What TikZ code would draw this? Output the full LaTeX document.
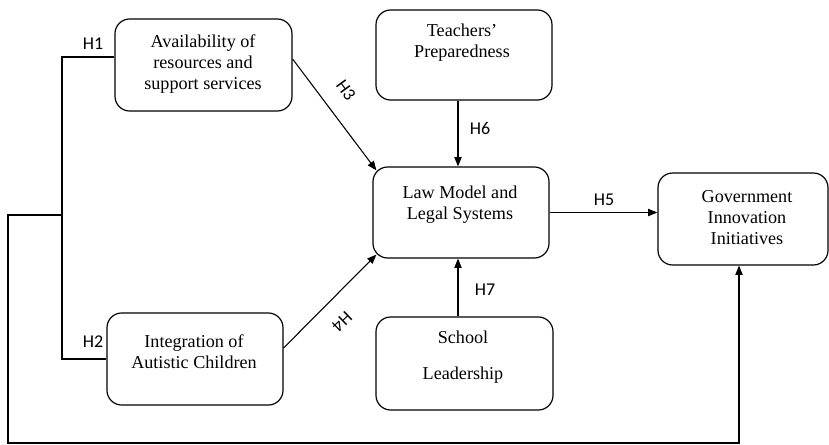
\documentclass[tikz,border=0pt]{standalone}
\usepackage{fontspec}
\setmainfont{Liberation Serif}
\newfontfamily\hypfont{Carlito}
\usetikzlibrary{arrows.meta,positioning,calc}

\begin{document}
\begin{tikzpicture}[x=0.75pt, y=-0.75pt,
    box/.style={draw, rounded corners=11pt, line width=0.9pt, inner sep=0pt},
    txt/.style={align=center, inner sep=0pt, font=\fontsize{13.6}{15.75}\selectfont},
    hyp/.style={inner sep=0pt, font=\hypfont\fontsize{13.5}{15}\selectfont},
    link/.style={line width=0.8pt},
    arr/.style={link, -{Triangle[length=7pt, width=5.5pt]}}]
    \useasboundingbox (0,0) rectangle (829,445);

    % boxes
    \node[box, minimum width=132.75pt, minimum height=69pt] (avail) at (203.5,65) {};
    \node[box, minimum width=132pt, minimum height=67.5pt] (teach) at (464,55) {};
    \node[box, minimum width=132pt, minimum height=68.25pt] (law) at (461,212.5) {};
    \node[box, minimum width=127.5pt, minimum height=69pt] (gov) at (743,219) {};
    \node[box, minimum width=132pt, minimum height=69pt] (integ) at (195,359) {};
    \node[box, minimum width=132.75pt, minimum height=69.75pt] (school) at (464.5,363.5) {};

    % texts
    \node[txt] (availtxt) at (203,64) {Availability of\\resources and\\support services};
    \node[txt] (teachtxt) at (462,43) {Teachers'\\Preparedness};
    \node[txt] (lawtxt) at (460,204.5) {Law Model and\\Legal Systems};
    \node[txt] (govtxt) at (747,218) {Government\\Innovation\\Initiatives};
    \node[txt] (integtxt) at (194,351.5) {Integration of\\Autistic Children};
    \node[txt] (schooltxt) at (463,357) {School\\[11pt]Leadership};

    % H3, H4
    \draw[arr] ($(avail.east)+(0,-6)$) -- ($(law.north west)+(4,4)$);
    \draw[arr] ($(integ.east)+(0,-11)$) -- ($(law.south west)+(4,-4)$);
    \node[hyp, rotate=-54] (h3) at (346,90) {H3};
    \node[hyp, rotate=224] (h4) at (342,322) {H4};

    % H6, H7
    \coordinate (lawtop) at ($(law.north)+(-3,0)$);
    \coordinate (lawbot) at ($(law.south)+(-3,0)$);
    \draw[arr] (teach.south -| lawtop) -- (lawtop);
    \draw[arr] (school.north -| lawbot) -- (lawbot);
    \node[hyp] (h6) at (480,128) {H6};
    \node[hyp] (h7) at (485,290) {H7};

    % H5
    \draw[arr] (law.east) -- (law.east -| gov.west);
    \node[hyp] (h5) at (604,200) {H5};

    % H1, H2 bracket
    \coordinate (b1) at (62,57);
    \coordinate (b2) at (62,359);
    \draw[link] (avail.west |- b1) -- (b1) -- (b2) -- (integ.west);
    \node[hyp] (h1) at (93,44) {H1};
    \node[hyp] (h2) at (93,342) {H2};

    % loop to government
    \coordinate (join) at (62,215);
    \coordinate (corner) at (8,443);
    \coordinate (govin) at ($(gov.south)+(-4,0)$);
    \draw[arr] (join) -| (corner) -| (govin);
\end{tikzpicture}
\end{document}
